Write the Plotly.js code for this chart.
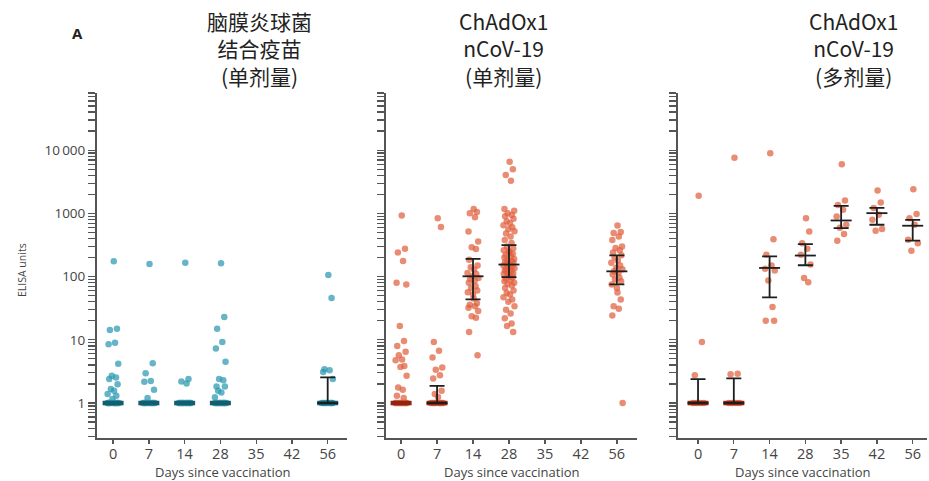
<!DOCTYPE html>
<html>
<head>
<meta charset="utf-8">
<script src="https://cdn.plot.ly/plotly-3.0.1.min.js"></script>
<style>html,body{margin:0;padding:0;background:#fff;}#chart{width:929px;height:481px;}</style>
</head>
<body>
<div id="chart"></div>
<script>
// ---------- categories ----------
const days = ['0', '7', '14', '28', '35', '42', '56'];
const panelTitles = ['脑膜炎球菌<br>结合疫苗<br>(单剂量)', 'ChAdOx1<br>nCoV-19<br>(单剂量)', 'ChAdOx1<br>nCoV-19<br>(多剂量)'];
const xTitle = 'Days since vaccination';
const yTitle = 'ELISA units';
const yTickLabels = {1: '1', 10: '10', 100: '100', 1000: '1000', 10000: '10\u2009000'};

// ---------- Panel 1: meningococcal conjugate vaccine (single dose) ----------
const men_d0  = [174, 15, 14.3, 9.0, 8.5, 4.2, 2.69, 2.54, 2.39, 1.99, 1.66, 1.56, 1.39, 1.30, 1.16, 1,1,1,1,1,1,1,1,1,1,1,1,1,1];
const men_d7  = [158, 4.26, 2.97, 2.24, 2.17, 1.62, 1.2, 1,1,1,1,1,1,1,1,1,1,1,1];
const men_d14 = [166, 2.39, 2.2, 2.04, 1,1,1,1,1,1,1,1,1,1,1,1,1,1];
const men_d28 = [162, 22.9, 15, 9.2, 7.3, 4.5, 2.39, 2.3, 1.83, 1.83, 1.56, 1.47, 1.23, 1,1,1,1,1,1,1,1,1,1,1,1,1,1];
const men_d56 = [106, 46, 3.43, 3.3, 3.1, 2.39, 1,1,1,1,1,1,1,1];
const men_q1  = [1, 1, 1, 1, null, null, 1];
const men_med = [1, 1, 1, 1, null, null, 1];
const men_q3  = [1, 1, 1, 1, null, null, 2.54];

// ---------- Panel 2: ChAdOx1 nCoV-19 (single dose) ----------
const chs_d0  = [923, 276, 241, 177, 80, 75, 16.5, 9.6, 8.0, 6.5, 5.7, 4.9, 4.76, 3.87, 3.73, 2.69, 1.76, 1.62, 1.3, 1.2, 1,1,1,1,1,1,1,1,1,1,1,1];
const chs_d7  = [837, 606, 9.2, 6.7, 5.25, 3.64, 3.35, 2.76, 2.45, 1.56, 1.39, 1.25, 1,1,1,1,1,1,1,1,1,1];
const chs_d14 = [1175, 1050, 1000, 870, 515, 360, 290, 274, 185, 150, 140, 129, 114, 110, 101, 95, 92, 85, 80, 70, 66, 60, 56.5, 52, 45, 38, 36, 34, 32, 28.5, 23.6, 22.4, 13.3, 5.7];
const chs_d28 = [6540, 4970, 4030, 3290, 1175, 1100, 1000, 940, 900, 820, 750, 700, 650, 600, 560, 520, 480, 430, 380, 340, 300, 280, 260, 250, 240, 230, 220, 210, 200, 190, 180, 175, 170, 165, 160, 155, 150, 145, 140, 135, 130, 125, 125, 120, 115, 112, 110, 105, 100, 98, 92, 88, 84, 80, 76, 72, 66, 60, 55, 52, 47, 43.5, 40, 34, 30, 26, 22, 18.1, 16.5, 13.3];
const chs_d56 = [645, 505, 490, 430, 380, 300, 283, 260, 240, 217, 200, 180, 166, 150, 138, 130, 121, 115, 108, 96, 90, 84, 75, 66, 56, 43.5, 34, 31, 24.3, 1];
const chs_q1  = [1, 1, 43.5, 98, null, null, 75];
const chs_med = [1, 1, 101, 155, null, null, 121];
const chs_q3  = [1, 1.87, 190, 315, null, null, 217];

// ---------- Panel 3: ChAdOx1 nCoV-19 (multiple doses) ----------
const chm_d0  = [1900, 9.2, 2.76, 1, 1, 1, 1];
const chm_d7  = [7600, 2.9, 2.85, 1, 1, 1, 1];
const chm_d14 = [8900, 391, 222, 149, 133, 125, 87, 33, 20, 20];
const chm_d28 = [840, 515, 338, 275, 222, 155, 95, 81];
const chm_d35 = [5960, 1590, 1360, 1135, 890, 660, 590, 470, 369];
const chm_d42 = [2290, 1480, 1210, 947, 790, 565, 530];
const chm_d56 = [2400, 980, 837, 660, 382, 338, 257];
const chm_q1  = [1, 1, 47, 151, 585, 660, 369];
const chm_med = [1, 1, 137, 215, 771, 1007, 637];
const chm_q3  = [2.39, 2.45, 209, 327, 1313, 1222, 790];

// ---------- styling helpers ----------
const jitterPattern = [0.02, 0.12, -0.1, 0.06, -0.14, 0.16, -0.04, 0.09, -0.12, 0.14, -0.07, 0.03, -0.17, 0.1, -0.02, 0.17, -0.09, 0.05, -0.13, 0.08, -0.06, 0.13, -0.16, 0.0];

const panels = [
  {groups: [men_d0, men_d7, men_d14, men_d28, null, null, men_d56], q1: men_q1, med: men_med, q3: men_q3,
   color: '#2a98b2', dark: '#155d6c', xr: [-0.45, 6.54], dom: [97/929, 347/929], showBar: [false,false,false,false,false,false,true]},
  {groups: [chs_d0, chs_d7, chs_d14, chs_d28, null, null, chs_d56], q1: chs_q1, med: chs_med, q3: chs_q3,
   color: '#e0603e', dark: '#8e2412', xr: [-0.42, 6.56], dom: [386/929, 637/929], showBar: [false,true,true,true,true,true,true]},
  {groups: [chm_d0, chm_d7, chm_d14, chm_d28, chm_d35, chm_d42, chm_d56], q1: chm_q1, med: chm_med, q3: chm_q3,
   color: '#e0603e', dark: '#8e2412', xr: [-0.56, 6.4], dom: [678/929, 927/929], showBar: [true,true,true,true,true,true,true]}
];

// y ticks (log axis, every 1..9 of each decade)
const yMin = 0.28, yMax = 80000;
const yTickVals = [], yTickText = [];
for (let d = 0.1; d <= 10000; d *= 10) {
  for (let m = 1; m <= 9; m++) {
    const v = +(m * d).toPrecision(3);
    if (v >= yMin && v <= yMax) {
      yTickVals.push(v);
      yTickText.push(yTickLabels[v] || '');
    }
  }
}

const traces = [];
const layout = {
  width: 929, height: 481,
  margin: {l: 0, r: 0, t: 0, b: 0},
  paper_bgcolor: '#fff', plot_bgcolor: '#fff',
  showlegend: false,
  font: {family: 'Open Sans, Noto Sans, sans-serif', color: '#444'},
  annotations: []
};
const yDom = [1 - 438/481, 1 - 93/481];
const titleCenters = [259/929, 503/929, 853/929];

panels.forEach((p, pi) => {
  const n = pi === 0 ? '' : String(pi + 1);
  const xa = 'x' + n, ya = 'y' + n;
  // points
  const xs = [], ys = [];
  p.groups.forEach((vals, gi) => {
    if (!vals) return;
    vals.forEach((v, k) => {
      xs.push(gi + jitterPattern[k % jitterPattern.length] * (v === 1 ? 1.0 : 0.9));
      ys.push(v);
    });
  });
  traces.push({x: xs, y: ys, type: 'scatter', mode: 'markers', xaxis: xa, yaxis: ya,
    marker: {size: 6.5, color: p.color, opacity: 0.72}, hoverinfo: 'y'});
  // dense floor (values at detection limit 1)
  const fx = [], fy = [];
  p.groups.forEach((vals, gi) => {
    if (vals && vals.filter(v => v === 1).length >= 3) { fx.push(gi); fy.push(1); }
  });
  traces.push({x: fx, y: fy, type: 'scatter', mode: 'markers', xaxis: xa, yaxis: ya,
    marker: {symbol: 'line-ew', size: 15, line: {width: 4.5, color: p.dark}}, hoverinfo: 'skip'});
  // median + IQR bars
  const ex = [], ey = [], ep = [], em = [];
  p.med.forEach((m, gi) => {
    if (m == null || !p.showBar[gi]) return;
    ex.push(gi); ey.push(m); ep.push(p.q3[gi] - m); em.push(m - p.q1[gi]);
  });
  traces.push({x: ex, y: ey, type: 'scatter', mode: 'markers', xaxis: xa, yaxis: ya,
    marker: {symbol: 'line-ew', size: 15, line: {width: 1.8, color: '#1e1e1e'}},
    error_y: {type: 'data', symmetric: false, array: ep, arrayminus: em, color: '#1e1e1e', thickness: 1.8, width: 7.5},
    hoverinfo: 'skip'});

  layout['xaxis' + n] = {
    domain: p.dom, anchor: ya, range: p.xr,
    tickmode: 'array', tickvals: days.map((d, i) => i), ticktext: days,
    ticks: 'outside', ticklen: 4, tickwidth: 1.3, tickcolor: '#555',
    ticklabelstandoff: -2,
    showline: true, linecolor: '#555', linewidth: 2,
    showgrid: false, zeroline: false,
    tickfont: {size: 14.5, color: '#444', family: 'Open Sans, sans-serif'}
  };
  layout['yaxis' + n] = {
    domain: yDom, anchor: xa, type: 'log',
    range: [Math.log10(yMin), Math.log10(yMax)],
    tickmode: 'array', tickvals: yTickVals, ticktext: yTickText,
    ticks: 'outside', ticklen: 7, tickwidth: 1.2, tickcolor: '#555',
    showline: true, linecolor: '#555', linewidth: 2,
    showgrid: false, zeroline: false,
    showticklabels: pi === 0,
    tickfont: {size: 13.5, color: '#444', family: 'Open Sans, sans-serif'}
  };
  layout.annotations.push({
    text: panelTitles[pi], xref: 'paper', yref: 'paper', x: titleCenters[pi], y: 1 - 48/481,
    xanchor: 'center', yanchor: 'middle', showarrow: false,
    font: {size: 21, color: '#222', family: 'Noto Sans CJK SC, Noto Sans, sans-serif'}
  });
  layout.annotations.push({
    text: xTitle, xref: 'paper', yref: 'paper', x: (p.dom[0] + p.dom[1]) / 2, y: 1 - 471.5/481,
    xanchor: 'center', yanchor: 'middle', showarrow: false,
    font: {size: 13, color: '#444', family: 'Open Sans, sans-serif'}
  });
});

layout.annotations.push({
  text: yTitle, xref: 'paper', yref: 'paper', x: 22/929, y: 1 - 270/481, textangle: -90,
  xanchor: 'center', yanchor: 'middle', showarrow: false,
  font: {size: 10.5, color: '#444', family: 'Open Sans, sans-serif'}
});
layout.annotations.push({
  text: '<b>A</b>', xref: 'paper', yref: 'paper', x: 77/929, y: 1 - 33/481,
  xanchor: 'center', yanchor: 'middle', showarrow: false,
  font: {size: 15, color: '#222', family: 'Open Sans, sans-serif'}
});

Plotly.newPlot('chart', traces, layout, {displayModeBar: false, staticPlot: true});
</script>
</body>
</html>
